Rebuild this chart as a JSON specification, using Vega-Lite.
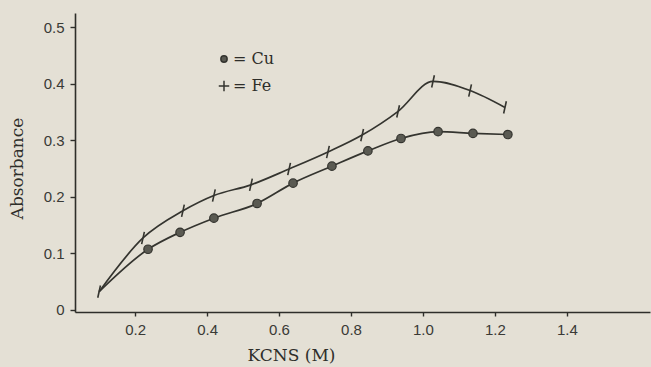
{
  "$schema": "https://vega.github.io/schema/vega-lite/v6.json",
  "width": 575,
  "height": 299,
  "autosize": "none",
  "padding": {"left": 75, "top": 13, "right": 1, "bottom": 55},
  "background": "#e4e0d5",
  "config": {
    "view": {"stroke": null},
    "axis": {
      "domainColor": "#2e2e2a",
      "domainWidth": 1.6,
      "tickColor": "#2e2e2a",
      "tickWidth": 1.4,
      "grid": false,
      "labelFont": "Liberation Sans",
      "labelFontSize": 15,
      "labelColor": "#3a3a36",
      "titleFont": "DejaVu Serif",
      "titleFontSize": 17,
      "titleFontWeight": "normal",
      "titleColor": "#2e2e2a"
    }
  },
  "data": {
    "values": [
      {"series": "Cu", "kcns": 0.1, "absorbance": 0.032, "marker": false},
      {"series": "Cu", "kcns": 0.236, "absorbance": 0.107, "marker": true},
      {"series": "Cu", "kcns": 0.325, "absorbance": 0.137, "marker": true},
      {"series": "Cu", "kcns": 0.419, "absorbance": 0.162, "marker": true},
      {"series": "Cu", "kcns": 0.539, "absorbance": 0.188, "marker": true},
      {"series": "Cu", "kcns": 0.639, "absorbance": 0.224, "marker": true},
      {"series": "Cu", "kcns": 0.747, "absorbance": 0.254, "marker": true},
      {"series": "Cu", "kcns": 0.847, "absorbance": 0.281, "marker": true},
      {"series": "Cu", "kcns": 0.939, "absorbance": 0.303, "marker": true},
      {"series": "Cu", "kcns": 1.042, "absorbance": 0.315, "marker": true},
      {"series": "Cu", "kcns": 1.139, "absorbance": 0.312, "marker": true},
      {"series": "Cu", "kcns": 1.236, "absorbance": 0.31, "marker": true},
      {"series": "Fe", "kcns": 0.1, "absorbance": 0.032, "marker": true},
      {"series": "Fe", "kcns": 0.222, "absorbance": 0.127, "marker": true},
      {"series": "Fe", "kcns": 0.333, "absorbance": 0.175, "marker": true},
      {"series": "Fe", "kcns": 0.419, "absorbance": 0.202, "marker": true},
      {"series": "Fe", "kcns": 0.522, "absorbance": 0.221, "marker": true},
      {"series": "Fe", "kcns": 0.628, "absorbance": 0.249, "marker": true},
      {"series": "Fe", "kcns": 0.736, "absorbance": 0.279, "marker": true},
      {"series": "Fe", "kcns": 0.831, "absorbance": 0.309, "marker": true},
      {"series": "Fe", "kcns": 0.931, "absorbance": 0.351, "marker": true},
      {"series": "Fe", "kcns": 1.028, "absorbance": 0.404, "marker": true},
      {"series": "Fe", "kcns": 1.131, "absorbance": 0.388, "marker": true},
      {"series": "Fe", "kcns": 1.228, "absorbance": 0.358, "marker": true}
    ]
  },
  "encoding": {
    "x": {
      "field": "kcns",
      "type": "quantitative",
      "scale": {"domain": [0.033, 1.631], "nice": false, "zero": false},
      "axis": {
        "values": [0.2, 0.4, 0.6, 0.8, 1.0, 1.2, 1.4],
        "format": ".1f",
        "tickSize": 4,
        "labelPadding": 6,
        "labelFont": "Liberation Sans",
        "labelFontSize": 15,
        "title": "KCNS (M)",
        "titleX": 216,
        "titleY": 35,
        "titleBaseline": "top"
      }
    },
    "y": {
      "field": "absorbance",
      "type": "quantitative",
      "scale": {"domain": [-0.004, 0.525], "nice": false, "zero": false},
      "axis": {
        "values": [0, 0.1, 0.2, 0.3, 0.4, 0.5],
        "labelExpr": "datum.value == 0 ? '0' : format(datum.value, '.1f')",
        "tickSize": 5,
        "labelPadding": 6,
        "labelFont": "Liberation Sans",
        "labelFontSize": 15,
        "title": "Absorbance",
        "titleX": -49,
        "titleY": 155,
        "titleAngle": -90,
        "titleBaseline": "bottom",
        "titleAlign": "center"
      }
    }
  },
  "layer": [
    {
      "mark": {"type": "line", "interpolate": "monotone", "color": "#34342f", "strokeWidth": 1.7},
      "encoding": {"detail": {"field": "series"}}
    },
    {
      "transform": [{"filter": "datum.series == 'Cu' && datum.marker"}],
      "mark": {"type": "point", "filled": true, "fill": "#5a5a52", "stroke": "#34342f", "strokeWidth": 1.2, "size": 200, "opacity": 1},
      "encoding": {
        "shape": {
          "field": "series",
          "type": "nominal",
          "scale": {
            "domain": ["Cu", "Fe"],
            "range": ["M-0.6,0A0.6,0.6 0 1,1 0.6,0A0.6,0.6 0 1,1 -0.6,0Z", "M-1,0L1,0M0,-1L0,1"]
          },
          "legend": {
            "orient": "none",
            "legendX": 141,
            "legendY": 38,
            "title": null,
            "labelExpr": "'= ' + datum.label",
            "labelFont": "DejaVu Serif",
            "labelFontSize": 16,
            "labelColor": "#2e2e2a",
            "labelOffset": 1,
            "symbolSize": 110,
            "symbolOpacity": 1,
            "rowPadding": 10,
            "padding": 0,
            "encode": {
              "symbols": {
                "update": {
                  "fill": {"value": "#3a3a34"},
                  "stroke": {"value": "#2e2e2a"},
                  "strokeWidth": {"value": 1.5},
                  "opacity": {"value": 1}
                }
              }
            }
          }
        }
      }
    },
    {
      "transform": [{"filter": "datum.series == 'Fe'"}],
      "mark": {"type": "point", "shape": "M-0.22,1L0.22,-1", "filled": false, "stroke": "#34342f", "strokeWidth": 1.6, "size": 150, "opacity": 1}
    }
  ]
}
